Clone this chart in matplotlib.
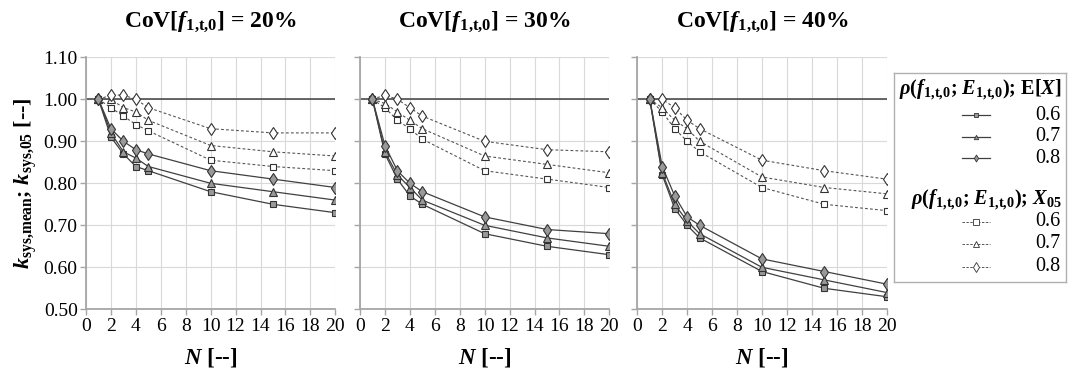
import matplotlib
matplotlib.use("Agg")
import matplotlib.pyplot as plt
from matplotlib.lines import Line2D

plt.rcParams['font.family'] = ['Liberation Serif', 'DejaVu Serif']
plt.rcParams['mathtext.fontset'] = 'custom'
plt.rcParams['mathtext.rm'] = 'Liberation Serif'
plt.rcParams['mathtext.it'] = 'Liberation Serif:italic'
plt.rcParams['mathtext.bf'] = 'Liberation Serif:bold'
plt.rcParams['mathtext.bfit'] = 'Liberation Serif:bold:italic'

# ---------------- data ----------------
N = [1, 2, 3, 4, 5, 10, 15, 20]
rho_labels = ["0.6", "0.7", "0.8"]
cov_titles = ["20%", "30%", "40%"]

cov20_mean_06 = [1.00, 0.91, 0.87, 0.84, 0.83, 0.78, 0.75, 0.73]
cov20_mean_07 = [1.00, 0.92, 0.875, 0.86, 0.84, 0.80, 0.78, 0.76]
cov20_mean_08 = [1.00, 0.93, 0.90, 0.88, 0.87, 0.83, 0.81, 0.79]
cov20_x05_06 = [1.00, 0.98, 0.96, 0.94, 0.925, 0.855, 0.84, 0.83]
cov20_x05_07 = [1.00, 1.00, 0.98, 0.97, 0.95, 0.89, 0.875, 0.865]
cov20_x05_08 = [1.00, 1.01, 1.01, 1.00, 0.98, 0.93, 0.92, 0.92]

cov30_mean_06 = [1.00, 0.87, 0.81, 0.77, 0.75, 0.68, 0.65, 0.63]
cov30_mean_07 = [1.00, 0.875, 0.82, 0.79, 0.76, 0.70, 0.67, 0.65]
cov30_mean_08 = [1.00, 0.89, 0.83, 0.80, 0.78, 0.72, 0.69, 0.68]
cov30_x05_06 = [1.00, 0.98, 0.95, 0.93, 0.905, 0.83, 0.81, 0.79]
cov30_x05_07 = [1.00, 0.99, 0.97, 0.95, 0.93, 0.865, 0.845, 0.825]
cov30_x05_08 = [1.00, 1.01, 1.00, 0.98, 0.96, 0.90, 0.88, 0.875]

cov40_mean_06 = [1.00, 0.82, 0.74, 0.70, 0.67, 0.59, 0.55, 0.53]
cov40_mean_07 = [1.00, 0.825, 0.75, 0.71, 0.68, 0.60, 0.57, 0.54]
cov40_mean_08 = [1.00, 0.84, 0.77, 0.72, 0.70, 0.62, 0.59, 0.56]
cov40_x05_06 = [1.00, 0.97, 0.93, 0.90, 0.875, 0.79, 0.75, 0.735]
cov40_x05_07 = [1.00, 0.98, 0.95, 0.93, 0.90, 0.815, 0.79, 0.775]
cov40_x05_08 = [1.00, 1.00, 0.98, 0.95, 0.93, 0.855, 0.83, 0.81]

panels = [
    ([cov20_mean_06, cov20_mean_07, cov20_mean_08], [cov20_x05_06, cov20_x05_07, cov20_x05_08]),
    ([cov30_mean_06, cov30_mean_07, cov30_mean_08], [cov30_x05_06, cov30_x05_07, cov30_x05_08]),
    ([cov40_mean_06, cov40_mean_07, cov40_mean_08], [cov40_x05_06, cov40_x05_07, cov40_x05_08]),
]

x_ticks = [0, 2, 4, 6, 8, 10, 12, 14, 16, 18, 20]
y_ticks = [0.50, 0.60, 0.70, 0.80, 0.90, 1.00, 1.10]

# ---------------- styles ----------------
markers = ['s', '^', 'd']
msizes = [4.8, 5.3, 6]
solid_col = '#404040'
dash_col = '#555555'
axis_col = '#a6a6a6'
grid_col = '#d9d9d9'

W, H = 1072, 373
fig = plt.figure(figsize=(W / 100, H / 100), dpi=100)

lefts = [86, 360, 637.3]
pw = 249.3
ybot, ytop = 309.3, 57.3

SUB = r"_{\mathbf{1{,}t{,}0}}"

for i, (means, x05s) in enumerate(panels):
    ax = fig.add_axes([lefts[i] / W, (H - ybot) / H, pw / W, (ybot - ytop) / H])
    ax.set_xlim(0, 20)
    ax.set_ylim(0.5, 1.1)
    ax.set_xticks(x_ticks)
    ax.set_yticks(y_ticks)
    ax.grid(True, color=grid_col, linewidth=0.8)
    ax.set_axisbelow(True)
    for s in ['top', 'right']:
        ax.spines[s].set_visible(False)
    for s in ['left', 'bottom']:
        ax.spines[s].set_color(axis_col)
        ax.spines[s].set_linewidth(1.3)
    ax.tick_params(axis='both', direction='out', length=4, width=1, color=axis_col,
                   labelsize=14, pad=2)
    if i == 0:
        ax.set_yticklabels([f"{v:.2f}" for v in y_ticks])
    else:
        ax.set_yticklabels([])
    ax.axhline(1.0, color='#404040', linewidth=1.1, zorder=1.5)

    for j in range(3):
        ax.plot(N, x05s[j], linestyle=(0, (2.5, 2)), color=dash_col, linewidth=0.8,
                marker=markers[j], markersize=msizes[j], markerfacecolor='white',
                markeredgecolor='#333333', markeredgewidth=0.8, zorder=3)
    for j in range(3):
        ax.plot(N, means[j], linestyle='-', color=solid_col, linewidth=0.9,
                marker=markers[j], markersize=msizes[j], markerfacecolor='#999999',
                markeredgecolor='#333333', markeredgewidth=0.8, zorder=4)

    ax.set_title(r"CoV[$\mathbfit{f}" + SUB + r"$] = " + cov_titles[i],
                 fontsize=17, fontweight='bold', pad=22)
    ax.set_xlabel(r"$\mathbfit{N}$ [--]", fontsize=16.5, fontweight='bold', labelpad=8)
    if i == 0:
        ax.set_ylabel(r"$\mathbfit{k}_{\mathbf{sys{,}mean}}$; $\mathbfit{k}_{\mathbf{sys{,}05}}$ [--]",
                      fontsize=16, fontweight='bold', labelpad=3)

# ---------------- legend ----------------
lx0, ly0, lx1, ly1 = 894.5, 73.3, 1066, 281.7
lax = fig.add_axes([lx0 / W, (H - ly1) / H, (lx1 - lx0) / W, (ly1 - ly0) / H])
lax.set_xlim(lx0, lx1)
lax.set_ylim(ly1, ly0)
lax.set_xticks([])
lax.set_yticks([])
for s in lax.spines.values():
    s.set_color('#b0b0b0')
    s.set_linewidth(1.0)

head = r"$\mathbfit{\rho}$($\mathbfit{f}" + SUB + r"$; $\mathbfit{E}" + SUB + r"$); "
lax.text(1062, 90, head + r"E[$\mathbfit{X}$]",
         fontsize=14.6, fontweight='bold', ha='right', va='center')
lax.text(1062, 200, head + r"$\mathbfit{X}_{\mathbf{05}}$",
         fontsize=14.6, fontweight='bold', ha='right', va='center')
rows1 = [115, 136.7, 158.3]
rows2 = [221.7, 244, 266.7]
for j in range(3):
    lax.add_line(Line2D([962, 990], [rows1[j], rows1[j]], color=solid_col, linewidth=0.9))
    lax.plot([976], [rows1[j]], marker=markers[j], markersize=msizes[j] * 0.6,
             markerfacecolor='#999999', markeredgecolor='#333333', markeredgewidth=0.6)
    lax.text(1060, rows1[j], rho_labels[j], fontsize=14.5, ha='right', va='center')
    lax.add_line(Line2D([962, 990], [rows2[j], rows2[j]], color=dash_col, linewidth=0.7,
                        linestyle=(0, (2.5, 1.5))))
    lax.plot([976], [rows2[j]], marker=markers[j], markersize=msizes[j] * 0.8,
             markerfacecolor='white', markeredgecolor='#333333', markeredgewidth=0.6)
    lax.text(1060, rows2[j], rho_labels[j], fontsize=14.5, ha='right', va='center')

fig.savefig("out.png", dpi=100)
